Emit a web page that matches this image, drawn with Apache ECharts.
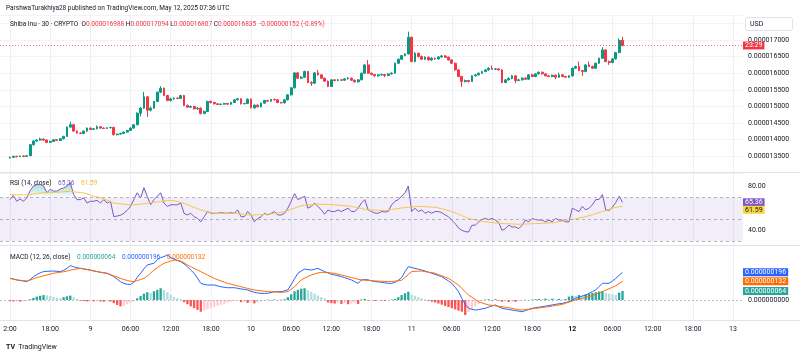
<!DOCTYPE html>
<html>
<head>
<meta charset="utf-8">
<script src="https://cdn.jsdelivr.net/npm/echarts@6.0.0/dist/echarts.min.js"></script>
<style>
html,body{margin:0;padding:0;background:#ffffff;}
#chart{width:800px;height:356px;}
</style>
</head>
<body>
<div id="chart"></div>
<script>
// Prices in units of 1e-9 USD (16988 = 0.000016988 USD). Rows: [open, close, low, high], 30-min candles from 8 May 12:00 UTC
const candles = [
[13450,13470,13440,13500],[13470,13500,13460,13520],[13500,13490,13470,13520],[13490,13510,13480,13530],[13510,13500,13480,13530],
[13500,13520,13490,13540],[13520,13850,13510,13870],[13850,13960,13830,13990],[13960,13990,13940,14020],[13990,14020,13970,14060],
[14020,13990,13970,14040],[13990,13920,13900,14010],[13920,13950,13900,13980],[13950,14000,13930,14020],[14000,13980,13960,14020],
[13980,14030,13960,14050],[14030,14100,14010,14120],[14100,14380,14090,14400],[14380,14450,14360,14540],[14450,14260,14240,14470],
[14260,14200,14180,14280],[14200,14190,14170,14230],[14190,14260,14180,14280],[14260,14350,14240,14370],[14350,14310,14290,14370],
[14310,14330,14290,14350],[14330,14390,14310,14430],[14390,14350,14330,14400],[14350,14340,14320,14370],[14340,14360,14320,14380],
[14360,14370,14340,14390],[14370,14150,14130,14390],[14150,14170,14130,14190],[14170,14190,14150,14210],[14190,14230,14170,14250],
[14230,14280,14210,14300],[14280,14350,14270,14370],[14350,14450,14330,14470],[14450,14800,14440,14820],[14800,14950,14700,14980],
[14950,15290,14930,15440],[15290,14890,14690,15310],[14890,14950,14850,15000],[14950,15150,14930,15170],[15150,15430,15130,15450],
[15430,15550,15400,15610],[15550,15330,15310,15570],[15330,15180,15160,15350],[15180,15230,15150,15260],[15230,15250,15200,15280],
[15250,15240,15220,15280],[15240,15330,15220,15350],[15330,15030,15010,15350],[15030,14980,14960,15060],[14980,15000,14950,15030],
[15000,14930,14910,15020],[14930,14950,14900,14980],[14950,14790,14760,14970],[14790,14850,14770,14880],[14850,15150,14840,15170],
[15150,15120,15090,15180],[15120,15080,15060,15140],[15080,15060,15040,15100],[15060,15070,15040,15090],[15070,15090,15050,15110],
[15090,15070,15050,15110],[15070,15120,15050,15140],[15120,15200,15100,15220],[15200,15230,15180,15260],[15230,15080,15060,15250],
[15080,15090,15060,15110],[15090,15220,15070,15240],[15220,14960,14940,15240],[14960,15040,14930,15060],[15040,14990,14970,15060],
[14990,15100,14970,15120],[15100,15180,15080,15200],[15180,15160,15140,15200],[15160,15210,15140,15230],[15210,15200,15180,15240],
[15200,15120,15100,15220],[15120,15110,15090,15140],[15110,15200,15090,15220],[15200,15350,15180,15370],[15350,15560,15330,15580],
[15560,16010,15540,16030],[16010,15850,15830,16030],[15850,15880,15820,15910],[15880,16050,15860,16080],[16050,15720,15700,16070],
[15720,15700,15620,15760],[15700,16010,15690,16030],[16010,15950,15930,16100],[15950,15850,15830,15970],[15850,15760,15740,15870],
[15760,15600,15580,15780],[15600,15800,15590,15820],[15800,15780,15760,15820],[15780,15800,15760,15830],[15800,15790,15770,15820],
[15790,15830,15770,15850],[15830,15850,15810,15880],[15850,15790,15770,15870],[15790,15740,15720,15810],[15740,15800,15720,15820],
[15800,16000,15790,16020],[16000,16250,15990,16270],[16250,16000,15980,16400],[16000,15960,15940,16020],[15960,15920,15900,15980],
[15920,15950,15900,15970],[15950,15960,15930,15990],[15960,15930,15880,15980],[15930,15980,15910,16000],[15980,16000,15960,16030],
[16000,16300,15990,16320],[16300,16420,16280,16440],[16420,16530,16400,16550],[16530,16580,16510,16600],[16580,17080,16560,17250],
[17080,16350,16330,17100],[16350,16600,16330,16630],[16600,16500,16480,16620],[16500,16420,16400,16530],[16420,16480,16400,16510],
[16480,16400,16380,16500],[16400,16450,16370,16480],[16450,16430,16400,16470],[16430,16490,16410,16510],[16490,16520,16470,16550],
[16520,16480,16460,16550],[16480,16400,16380,16500],[16400,16300,16280,16420],[16300,16100,16080,16320],[16100,15900,15880,16120],
[15900,15750,15590,15920],[15750,15780,15720,15810],[15780,15750,15720,15800],[15750,15920,15740,15940],[15920,15950,15900,15970],
[15950,16000,15930,16020],[16000,16050,15980,16070],[16050,16100,16030,16120],[16100,16150,16080,16180],[16150,16120,16100,16230],
[16120,16130,16100,16160],[16130,16100,16080,16150],[16100,15720,15700,16120],[15720,15800,15700,15820],[15800,15840,15780,15880],
[15840,15920,15820,15950],[15920,15780,15700,15940],[15780,15800,15760,15830],[15800,15850,15780,15880],[15850,15820,15800,15880],
[15820,15950,15800,15970],[15950,15900,15880,15980],[15900,15980,15880,16000],[15980,16030,15960,16050],[16030,15980,15960,16050],
[15980,15920,15900,16000],[15920,15900,15880,15950],[15900,15940,15880,15960],[15940,15880,15820,15960],[15880,15950,15860,16020],
[15950,15900,15880,15970],[15900,15880,15860,15920],[15880,15920,15860,15940],[15920,16150,15900,16170],[16150,16200,16130,16230],
[16200,16080,16060,16350],[16080,16050,15920,16100],[16050,16250,16030,16270],[16250,16200,16180,16350],[16200,16150,16130,16230],
[16150,16300,16130,16320],[16300,16450,16280,16470],[16450,16700,16430,16780],[16700,16350,16330,16720],[16350,16320,16250,16380],
[16320,16430,16300,16450],[16430,16620,16410,16640],[16620,16987,16600,17050],[16988,16835,16807,17094]
];
const rsi = [
67.8,71.6,66.3,68.4,66.3,69.4,76,80.3,81.5,81.8,
80.5,74.1,77.2,75.6,75.6,77.5,78.5,80.3,83.4,72.5,
67.8,67.8,69.4,64.7,66.3,66.3,67.2,64.7,67.8,64.7,
66.3,52.2,52.8,53.5,55.3,58,61.6,68,74.1,69.4,
78.8,70.9,63.1,67.8,70.9,74.1,64.7,61.6,63.1,63.1,
63.1,64.7,55.3,53.8,55.3,52.2,50.6,47.5,52.2,56.9,
55.5,55.3,55.3,55.9,55.5,55.3,55.9,55.3,58.4,52.2,
52.2,56.9,53.8,47.5,50.6,52.2,55.3,53.8,55.3,56.9,
53.8,53.8,55.3,60,66.3,73.4,67.8,69.4,70.9,60,
61.6,64.7,61.6,58.4,54.5,58.4,56.9,56.9,58.4,56.9,
58.4,60,56.9,56.9,60,64.7,67.8,58.4,56.9,55.5,
55.3,56.9,56.5,56.9,63,66.3,67.8,70.9,74.1,80.3,
56.9,60,56.9,58.4,55.3,56.9,55.3,56.9,56.9,55.9,
53.8,52.2,49,45.9,41.8,39.7,38.6,38.1,44.4,44.4,
47.5,49.7,50.6,49.5,50.6,49.1,47,39.7,41.3,44.4,
42.8,42.8,41.3,44.4,49.1,47.5,50.6,49.5,49.1,49.1,
47.5,49.1,47.5,50.6,49.1,49.1,47.5,47.5,60,58.4,
56.9,61.6,58.4,60,63.1,67.8,68,72.5,58.4,58,
61,65.3,70.9,65.36
];
const rsiMA = [
72.5,72.4,72.3,72.2,72.2,72.3,72.6,73,73.4,73.8,
74,74.1,74.2,74.4,74.6,74.8,75,75.2,75.4,75,
74.6,74.3,74,73,72,71,70.2,69.4,68.3,67.2,
66,64.7,64.3,64,63.6,63.3,63.1,63.1,63.4,63.7,
64,64.4,64.7,65.2,65.7,66.2,66.7,67.2,67,66.7,
66.3,65.3,64.2,63.1,61.9,60.7,59.5,58.4,57.6,56.8,
56,55.3,55.3,55.3,55.2,55.2,55.3,55.3,55,54.7,
54.3,54,53.75,53.8,54,54.1,54.3,54.4,54.8,55.3,
55.8,56.3,56.9,57.9,58.9,60,61.1,62.2,62.5,62.8,
63.1,63.4,63.75,63.6,63.5,63.4,63.2,63.1,62.8,62.5,
62.2,61.9,61.6,61,60.4,59.7,59,58.4,58.3,58.2,
58,57.9,57.8,58.2,58.7,59.2,59.7,60.2,60.5,60.8,
61.1,61.4,61.6,61.5,61.4,61.2,61,60.9,60.2,59.4,
58.6,57.8,56.9,55.7,54.4,53.1,51.8,50.6,50,49.4,
48.7,48.1,47.5,47.2,46.8,46.5,46.2,45.9,45.8,45.7,
45.6,45.4,45.3,45.4,45.5,45.6,45.8,45.9,46,46.2,
46.3,46.5,46.6,47.1,47.6,48.1,48.6,49.1,49.7,50.3,
51,51.6,52.2,53.1,54.1,55,56,56.9,57.9,58.9,
59.9,60.9,61.3,61.59
];
// MACD values in units of 1e-9
const macd = [
153,148,142,138,134,130,145,165,180,192,
201,203,204,205,203,201,210,224,243,235,
228,224,220,216,212,206,201,196,192,189,
178,165,148,130,118,111,110,125,160,189,
220,248,254,260,285,300,307,319,300,290,
280,271,255,236,212,189,155,118,110,106,
106,106,100,94,90,87,87,87,83,78,
75,71,62,54,50,47,47,47,53,59,
59,59,65,71,110,150,189,205,219,215,
212,218,224,212,201,192,182,177,172,165,
158,150,142,130,118,142,145,142,136,130,
128,125,121,118,118,125,140,158,200,236,
230,224,218,212,205,197,189,181,173,165,
150,135,118,90,59,10,-30,-59,-66,-71,
-68,-63,-59,-50,-42,-35,-47,-59,-63,-67,
-71,-75,-79,-83,-75,-67,-59,-55,-51,-47,
-43,-39,-35,-31,-27,-24,-18,-12,0,12,
20,28,35,47,59,71,95,118,118,118,
135,153,175,196
];
const signal = [
153,148,142,139,137,135,140,150,158,165,
171,177,183,189,193,197,200,205,211,216,
220,224,220,215,210,205,201,197,193,189,
180,171,162,153,145,138,133,130,137,145,
153,170,190,212,228,245,260,268,276,283,
280,276,262,249,236,224,212,201,189,177,
165,153,144,135,126,118,112,106,100,94,
88,82,76,71,68,65,62,59,58,57,
56,54,56,59,76,94,118,142,155,166,
177,185,191,196,194,193,191,189,183,177,
171,165,159,153,147,142,140,139,137,135,
134,133,131,130,131,133,136,140,160,180,
201,203,204,205,201,197,194,189,180,171,
162,153,138,122,106,82,58,35,19,4,
-12,-20,-28,-35,-38,-41,-44,-47,-51,-55,
-59,-64,-68,-71,-68,-65,-62,-59,-56,-53,
-50,-47,-43,-39,-35,-31,-23,-15,-8,0,
6,12,18,24,33,42,50,59,70,80,
90,101,117,132
];
const hist = [
-8,-10,-9,-11,-10,-8,5,15,24,30,
35,33,28,22,17,12,20,26,31,20,
8,-5,-8,-10,-7,-9,-6,-10,-12,-8,
-11,-22,-35,-45,-40,-30,-20,-10,12,28,
45,55,50,62,72,83,70,55,38,22,
12,6,-15,-30,-45,-58,-70,-83,-75,-66,
-58,-50,-42,-35,-28,-20,-12,-6,-4,-15,
-12,-20,-16,-24,-18,-12,-5,3,-3,4,
-2,2,5,20,40,62,72,80,83,70,
58,45,32,20,10,-17,-22,-25,-18,-28,
-22,-30,-25,-20,-28,4,8,-5,-3,-6,
-4,-5,-7,-4,3,8,20,35,48,59,
40,30,20,12,5,-7,-12,-18,-25,-33,
-42,-50,-58,-67,-76,-83,-106,-85,-65,-45,
-30,-8,3,5,-4,6,-5,-12,-10,-14,
-12,-13,-9,-3,2,-2,3,5,8,6,
10,7,9,6,8,4,6,24,30,28,
35,32,40,45,50,55,60,64,50,45,
40,35,52,64
];
const xTickLabels = ['2:00','18:00','9','06:00','12:00','18:00','10','06:00','12:00','18:00','11','06:00','12:00','18:00','12','06:00','12:00','18:00','13'];
const priceTicks = [13500,14000,14500,15000,15500,16000,16500,17000];
const rsiTicks = [40, 80];

const FONT = 'Roboto, "Liberation Sans", sans-serif';
const TXT = '#131722';
const N_SLOTS = 223, FIRST = 3, STEP = 12;
const categories = [];
const t0 = Date.UTC(2025, 4, 8, 10, 30);
for (let i = 0; i < N_SLOTS; i++) categories.push(new Date(t0 + i * 1800000).toISOString().slice(0, 16));
const isTick = i => i >= FIRST && (i - FIRST) % STEP === 0;
const xy = arr => arr.map((v, k) => [k + FIRST, v]);
const candleData = candles.map((c, k) => [k + FIRST, c[0], c[1], c[2], c[3]]);
const nano = v => (v / 1e9).toFixed(9);

const grids = [
  {left: 0, right: 57, top: 15, height: 158},
  {left: 0, right: 57, top: 172, height: 73},
  {left: 0, right: 57, top: 245, height: 75}
];
const xAxes = [0, 1, 2].map(g => ({
  type: 'category', gridIndex: g, data: categories, boundaryGap: false,
  axisLine: {show: false}, axisTick: {show: false},
  splitLine: {show: true, interval: (i) => isTick(i), lineStyle: {color: '#eef0f5', width: 1}},
  axisLabel: g === 2 ? {
    show: true, interval: (i) => isTick(i), margin: 6, fontSize: 7, color: TXT, fontFamily: FONT,
    formatter: (v, i) => { const s = xTickLabels[(i - FIRST) / STEP]; return s === '12' ? '{b|12}' : s; },
    rich: {b: {fontWeight: 'bold', fontSize: 7, color: TXT, fontFamily: FONT}}
  } : {show: false}
}));
const last = candles.length - 1;

const option = {
  animation: false,
  backgroundColor: '#ffffff',
  textStyle: {fontFamily: FONT},
  grid: grids,
  xAxis: xAxes,
  yAxis: [
    {type: 'value', gridIndex: 0, position: 'right', min: 13000, max: 17750, interval: 500,
      axisLine: {show: false}, axisTick: {show: false},
      splitLine: {show: true, lineStyle: {color: '#f2f3f7'}},
      axisLabel: {margin: 5, fontSize: 7, color: TXT, fontFamily: FONT,
        formatter: v => priceTicks.indexOf(v) >= 0 ? nano(v) : ''}},
    {type: 'value', gridIndex: 1, position: 'right', min: 26.3, max: 93.1,
      axisLine: {show: false}, axisTick: {show: false}, splitLine: {show: false},
      axisLabel: {customValues: rsiTicks, margin: 5, fontSize: 7, color: TXT, fontFamily: FONT, formatter: v => v.toFixed(2)}},
    {type: 'value', gridIndex: 2, position: 'right', min: -141.5, max: 389.2,
      axisLine: {show: false}, axisTick: {show: false}, splitLine: {show: false},
      axisLabel: {customValues: [0], margin: 5, fontSize: 7, color: TXT, fontFamily: FONT, formatter: v => nano(v)}}
  ],
  series: [
    {type: 'candlestick', xAxisIndex: 0, yAxisIndex: 0, data: candleData, encode: {x: 0, y: [1, 2, 3, 4]},
      barWidth: 2.3,
      itemStyle: {color: '#089981', color0: '#f23645', borderColor: '#089981', borderColor0: '#f23645', borderWidth: 1},
      markLine: {silent: true, symbol: 'none', label: {show: false},
        lineStyle: {color: '#f23645', type: [1, 2], width: 1, opacity: 0.7},
        data: [{yAxis: candles[last][1]}]}},
    {type: 'line', name: 'rsiFill', xAxisIndex: 1, yAxisIndex: 1, data: xy(rsi.map(v => Math.max(v, 70))),
      symbol: 'none', lineStyle: {width: 0}, silent: true,
      areaStyle: {origin: 70, color: new echarts.graphic.LinearGradient(0, 0, 0, 1, [
        {offset: 0, color: 'rgba(8,153,129,0.55)'}, {offset: 1, color: 'rgba(8,153,129,0.03)'}])}},
    {type: 'line', name: 'RSI', xAxisIndex: 1, yAxisIndex: 1, data: xy(rsi), symbol: 'none',
      lineStyle: {color: '#7e57c2', width: 1},
      markArea: {silent: true, itemStyle: {color: 'rgba(126,87,194,0.1)'}, data: [[{yAxis: 30}, {yAxis: 70}]]},
      markLine: {silent: true, symbol: 'none', label: {show: false},
        lineStyle: {color: '#9598a1', type: [3, 3], width: 1, opacity: 0.7},
        data: [{yAxis: 70}, {yAxis: 50}, {yAxis: 30}]}},
    {type: 'line', name: 'RSI MA', xAxisIndex: 1, yAxisIndex: 1, data: xy(rsiMA), symbol: 'none',
      lineStyle: {color: '#f7c64b', width: 1}},
    {type: 'bar', name: 'Histogram', xAxisIndex: 2, yAxisIndex: 2, data: xy(hist), barWidth: 2.3,
      itemStyle: {color: p => {
        const k = p.dataIndex, v = hist[k], pv = k > 0 ? hist[k - 1] : v;
        if (v >= 0) return v >= pv ? '#26a69a' : '#b2dfdb';
        return v <= pv ? '#ff5252' : '#ffcdd2';
      }},
      markLine: {silent: true, symbol: 'none', label: {show: false},
        lineStyle: {color: '#9598a1', type: [2, 2], width: 1, opacity: 0.6}, data: [{yAxis: 0}]}},
    {type: 'line', name: 'MACD', xAxisIndex: 2, yAxisIndex: 2, data: xy(macd), symbol: 'none',
      lineStyle: {color: '#2962ff', width: 1}},
    {type: 'line', name: 'Signal', xAxisIndex: 2, yAxisIndex: 2, data: xy(signal), symbol: 'none',
      lineStyle: {color: '#ff6d00', width: 1}}
  ]
};

const chart = echarts.init(document.getElementById('chart'), null, {renderer: 'canvas'});
chart.setOption(option);

const py = (ax, v) => chart.convertToPixel({yAxisIndex: ax}, v);
const badge = (text, y, bg, fg) => ({type: 'text', x: 743, y: y, z: 100,
  style: {text: text, fill: fg || '#ffffff', backgroundColor: bg, padding: [1, 2, 0, 2], font: '7px ' + FONT, verticalAlign: 'middle', align: 'left'}});
const hline = y => ({type: 'line', z: 90, shape: {x1: 0, y1: y, x2: 800, y2: y}, style: {stroke: '#e0e3eb', lineWidth: 1}});

const cLast = candles[last];
const rsiLast = rsi[rsi.length - 1], maLast = rsiMA[rsiMA.length - 1];
const mLast = macd[macd.length - 1], sLast = signal[signal.length - 1], hLast = hist[hist.length - 1];
const yR = py(1, rsiLast);
let yM = py(1, maLast);
if (yM - yR < 7.5) yM = yR + 7.5;

chart.setOption({graphic: [
  hline(172.5), hline(245.5), hline(320.5),
  {type: 'text', x: 6, y: 8, style: {text: 'ParshwaTurakhiya28 published on TradingView.com, May 12, 2025 07:36 UTC', fill: TXT, font: '6.5px ' + FONT, verticalAlign: 'middle'}},
  {type: 'text', x: 10, y: 24, style: {
    text: '{d|Shiba Inu · 30 · CRYPTO  O}{r|' + nano(cLast[0]) + '}{d| H}{r|' + nano(cLast[3]) + '}{d| L}{r|' + nano(cLast[2]) + '}{d| C}{r|' + nano(cLast[1]) + '  -0.000000152 (-0.89%)}',
    verticalAlign: 'middle',
    rich: {d: {fill: TXT, font: '6.5px ' + FONT}, r: {fill: '#f23645', font: '6.5px ' + FONT}}}},
  {type: 'rect', z: 100, shape: {x: 745.5, y: 17.5, width: 47, height: 13, r: 2}, style: {fill: '#ffffff', stroke: '#e0e3eb', lineWidth: 1}},
  {type: 'text', z: 101, x: 750, y: 24, style: {text: 'USD', fill: TXT, font: '7px ' + FONT, verticalAlign: 'middle'}},
  badge('23:29', py(0, cLast[1]), '#f23645'),
  {type: 'text', x: 10, y: 183, style: {
    text: '{d|RSI (14, close)}  {p|' + rsiLast.toFixed(2) + '}  {y|' + maLast.toFixed(2) + '}', verticalAlign: 'middle',
    rich: {d: {fill: TXT, font: '6.5px ' + FONT}, p: {fill: '#7e57c2', font: '6.5px ' + FONT}, y: {fill: '#f5b82e', font: '6.5px ' + FONT}}}},
  badge(rsiLast.toFixed(2), yR, '#7e57c2'),
  badge(maLast.toFixed(2), yM, '#f9d640', '#131722'),
  {type: 'text', x: 10, y: 257, style: {
    text: '{d|MACD (12, 26, close)}  {h|' + nano(hLast) + '}  {m|' + nano(mLast) + '}  {s|' + nano(sLast) + '}', verticalAlign: 'middle',
    rich: {d: {fill: TXT, font: '6.5px ' + FONT}, h: {fill: '#26a69a', font: '6.5px ' + FONT}, m: {fill: '#2962ff', font: '6.5px ' + FONT}, s: {fill: '#ff6d00', font: '6.5px ' + FONT}}}},
  badge(nano(mLast), py(2, mLast), '#2962ff'),
  badge(nano(sLast), py(2, sLast), '#ff6d00'),
  badge(nano(hLast), py(2, hLast), '#26a69a'),
  {type: 'text', x: 6, y: 347, style: {text: '{l|TV} {t|TradingView}', verticalAlign: 'middle',
    rich: {l: {fill: '#131722', font: 'bold 7px ' + FONT}, t: {fill: TXT, font: '7px ' + FONT}}}}
]});
</script>
</body>
</html>
